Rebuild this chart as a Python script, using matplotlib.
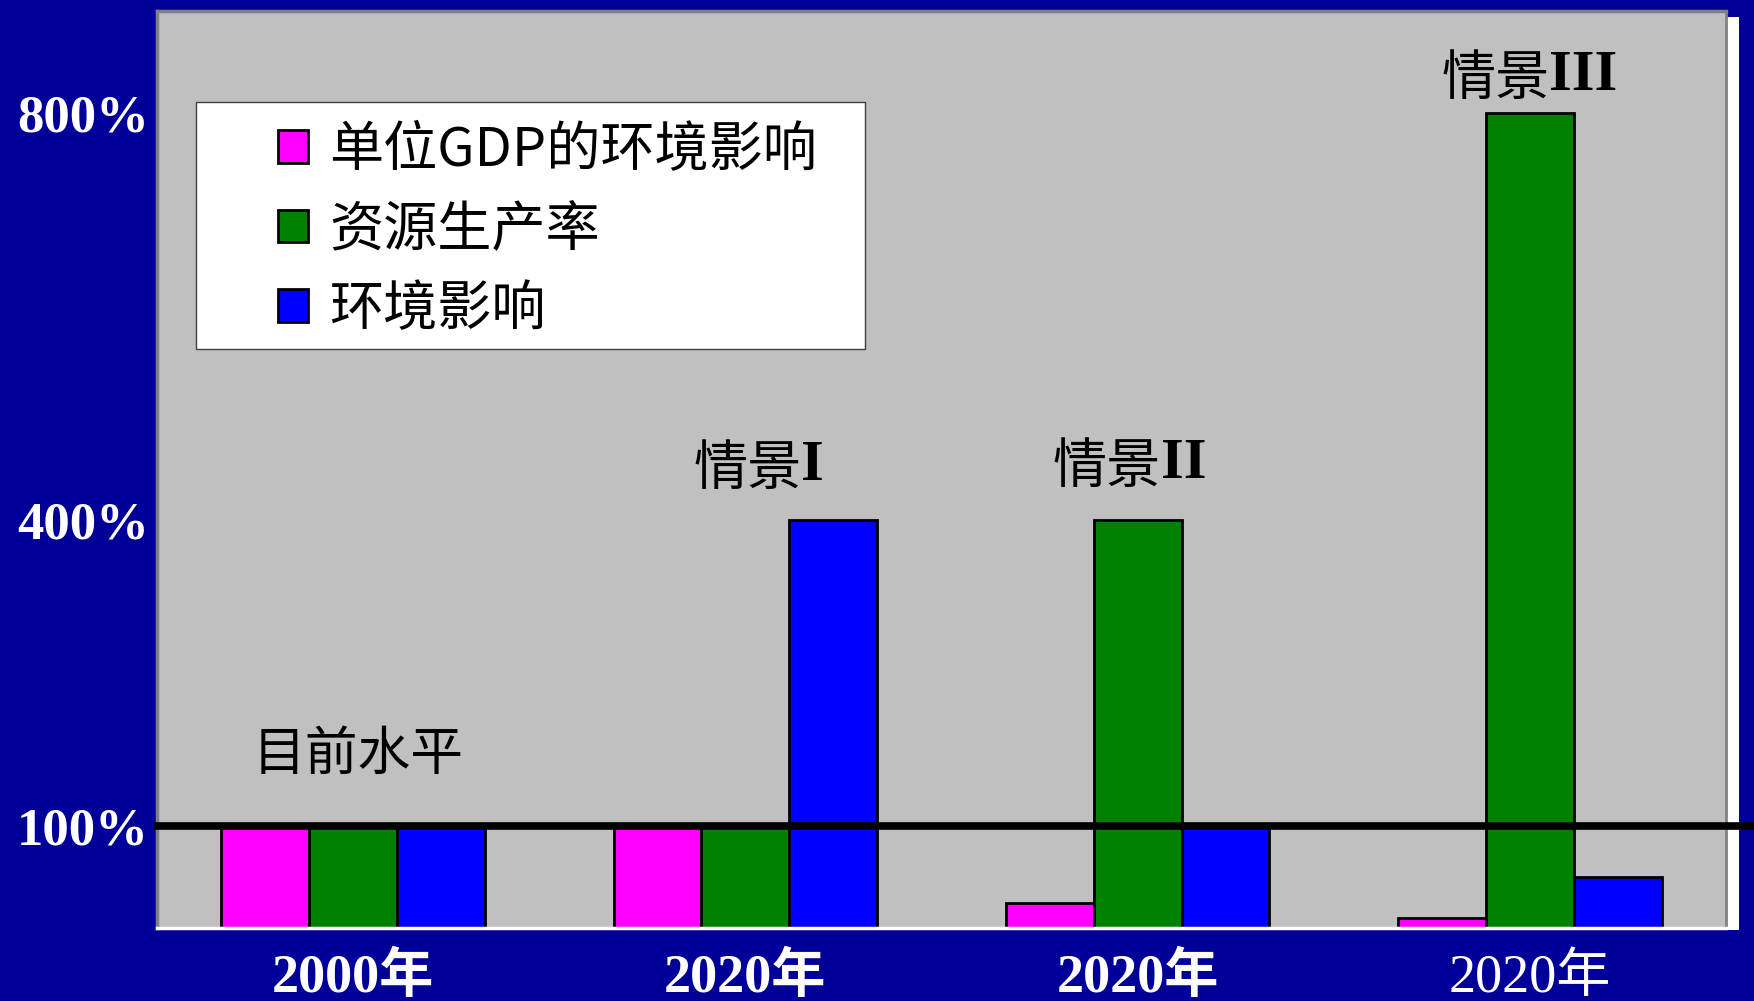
import matplotlib
matplotlib.use("Agg")
import matplotlib.pyplot as plt
from matplotlib.patches import Rectangle
import numpy as np

# data
groups = ["2000年", "2020年", "2020年", "2020年"]
series_names = ["单位GDP的环境影响", "资源生产率", "环境影响"]
gdp_impact = [100, 100, 25, 10]
resource_prod = [100, 100, 400, 800]
env_impact = [100, 400, 100, 50]
ytick_vals = [100, 400, 800]
ytick_labels = ["100%", "400%", "800%"]
scenario_names = ["I", "II", "III"]

colors = ["#FF00FF", "#008000", "#0000FF"]
bg = "#000099"
serif_cjk = ["Liberation Serif", "Noto Sans CJK SC"]

fig = plt.figure(figsize=(17.54, 10.01), dpi=100)
fig.patch.set_facecolor(bg)
ax = fig.add_axes([157 / 1754, 73 / 1001, 1569 / 1754, 917 / 1001])
ax.set_facecolor("#C0C0C0")
ax.set_zorder(2)

x = np.arange(len(groups))
w = 0.224
bars = []
for i, vals in enumerate([gdp_impact, resource_prod, env_impact]):
    b = ax.bar(x + (i - 1) * w, vals, w, color=colors[i], edgecolor="black",
               linewidth=2, label=series_names[i], zorder=2)
    bars.append(b)

ax.set_xlim(-0.5, 3.5)
ax.set_ylim(0, 900)

# current level line
ax.axhline(100, xmin=0, xmax=1.02, color="black", lw=5.5, clip_on=False, zorder=5)

# ticks
ax.set_yticks(ytick_vals)
ax.set_yticklabels(ytick_labels, color="white", fontsize=38, fontweight="bold",
                   family="Liberation Serif")
ax.set_xticks(x)
ax.set_xticklabels(groups, color="white", fontsize=39, fontweight="bold",
                   family=serif_cjk)
ax.get_xticklabels()[-1].set_fontweight("normal")
ax.tick_params(axis="both", length=0)
ax.tick_params(axis="y", pad=6)
ax.tick_params(axis="x", pad=18)

for s in ["left", "top"]:
    ax.spines[s].set_color("#808080")
    ax.spines[s].set_linewidth(2.5)
ax.spines["bottom"].set_color("white")
ax.spines["bottom"].set_linewidth(2.5)
ax.spines["right"].set_color("#808080")
ax.spines["right"].set_linewidth(2)
fig.patches.append(Rectangle((1727 / 1754, 71 / 1001), 12 / 1754, (1001 - 71 - 17) / 1001,
                             transform=fig.transFigure, facecolor="white",
                             edgecolor="none", zorder=0))

# legend box
ax.add_patch(Rectangle((0.025, 0.631), 0.426, 0.27, transform=ax.transAxes,
                       facecolor="white", edgecolor="#404040", lw=1, zorder=6))
leg = ax.legend(loc="upper left", bbox_to_anchor=(0.077, 0.878), frameon=False,
                prop={"family": ["Noto Sans CJK SC"], "size": 39},
                handlelength=0.55, handleheight=0.55, handletextpad=0.4,
                labelspacing=0.45, borderaxespad=0, borderpad=0)
leg.set_zorder(7)

# annotations
ax.text(0.013, 170, "目前水平", fontsize=38, family=["Noto Sans CJK SC"],
        ha="center", va="center", zorder=6)
scen_pos = [(1.083, 450), (2.035, 452), (3.06, 833)]
for name, (sx, sy) in zip(scenario_names, scen_pos):
    off = 0.06 - 0.07 * (len(name) - 1) / 2
    ax.text(sx + off, sy, "情景", fontsize=39, family=["Noto Sans CJK SC"],
            ha="right", va="center", zorder=6)
    ax.text(sx + off, sy + 3, name, fontsize=42, family="Liberation Serif",
            fontweight="bold", ha="left", va="center", zorder=6)

fig.savefig("out.png", dpi=100, facecolor=bg)
